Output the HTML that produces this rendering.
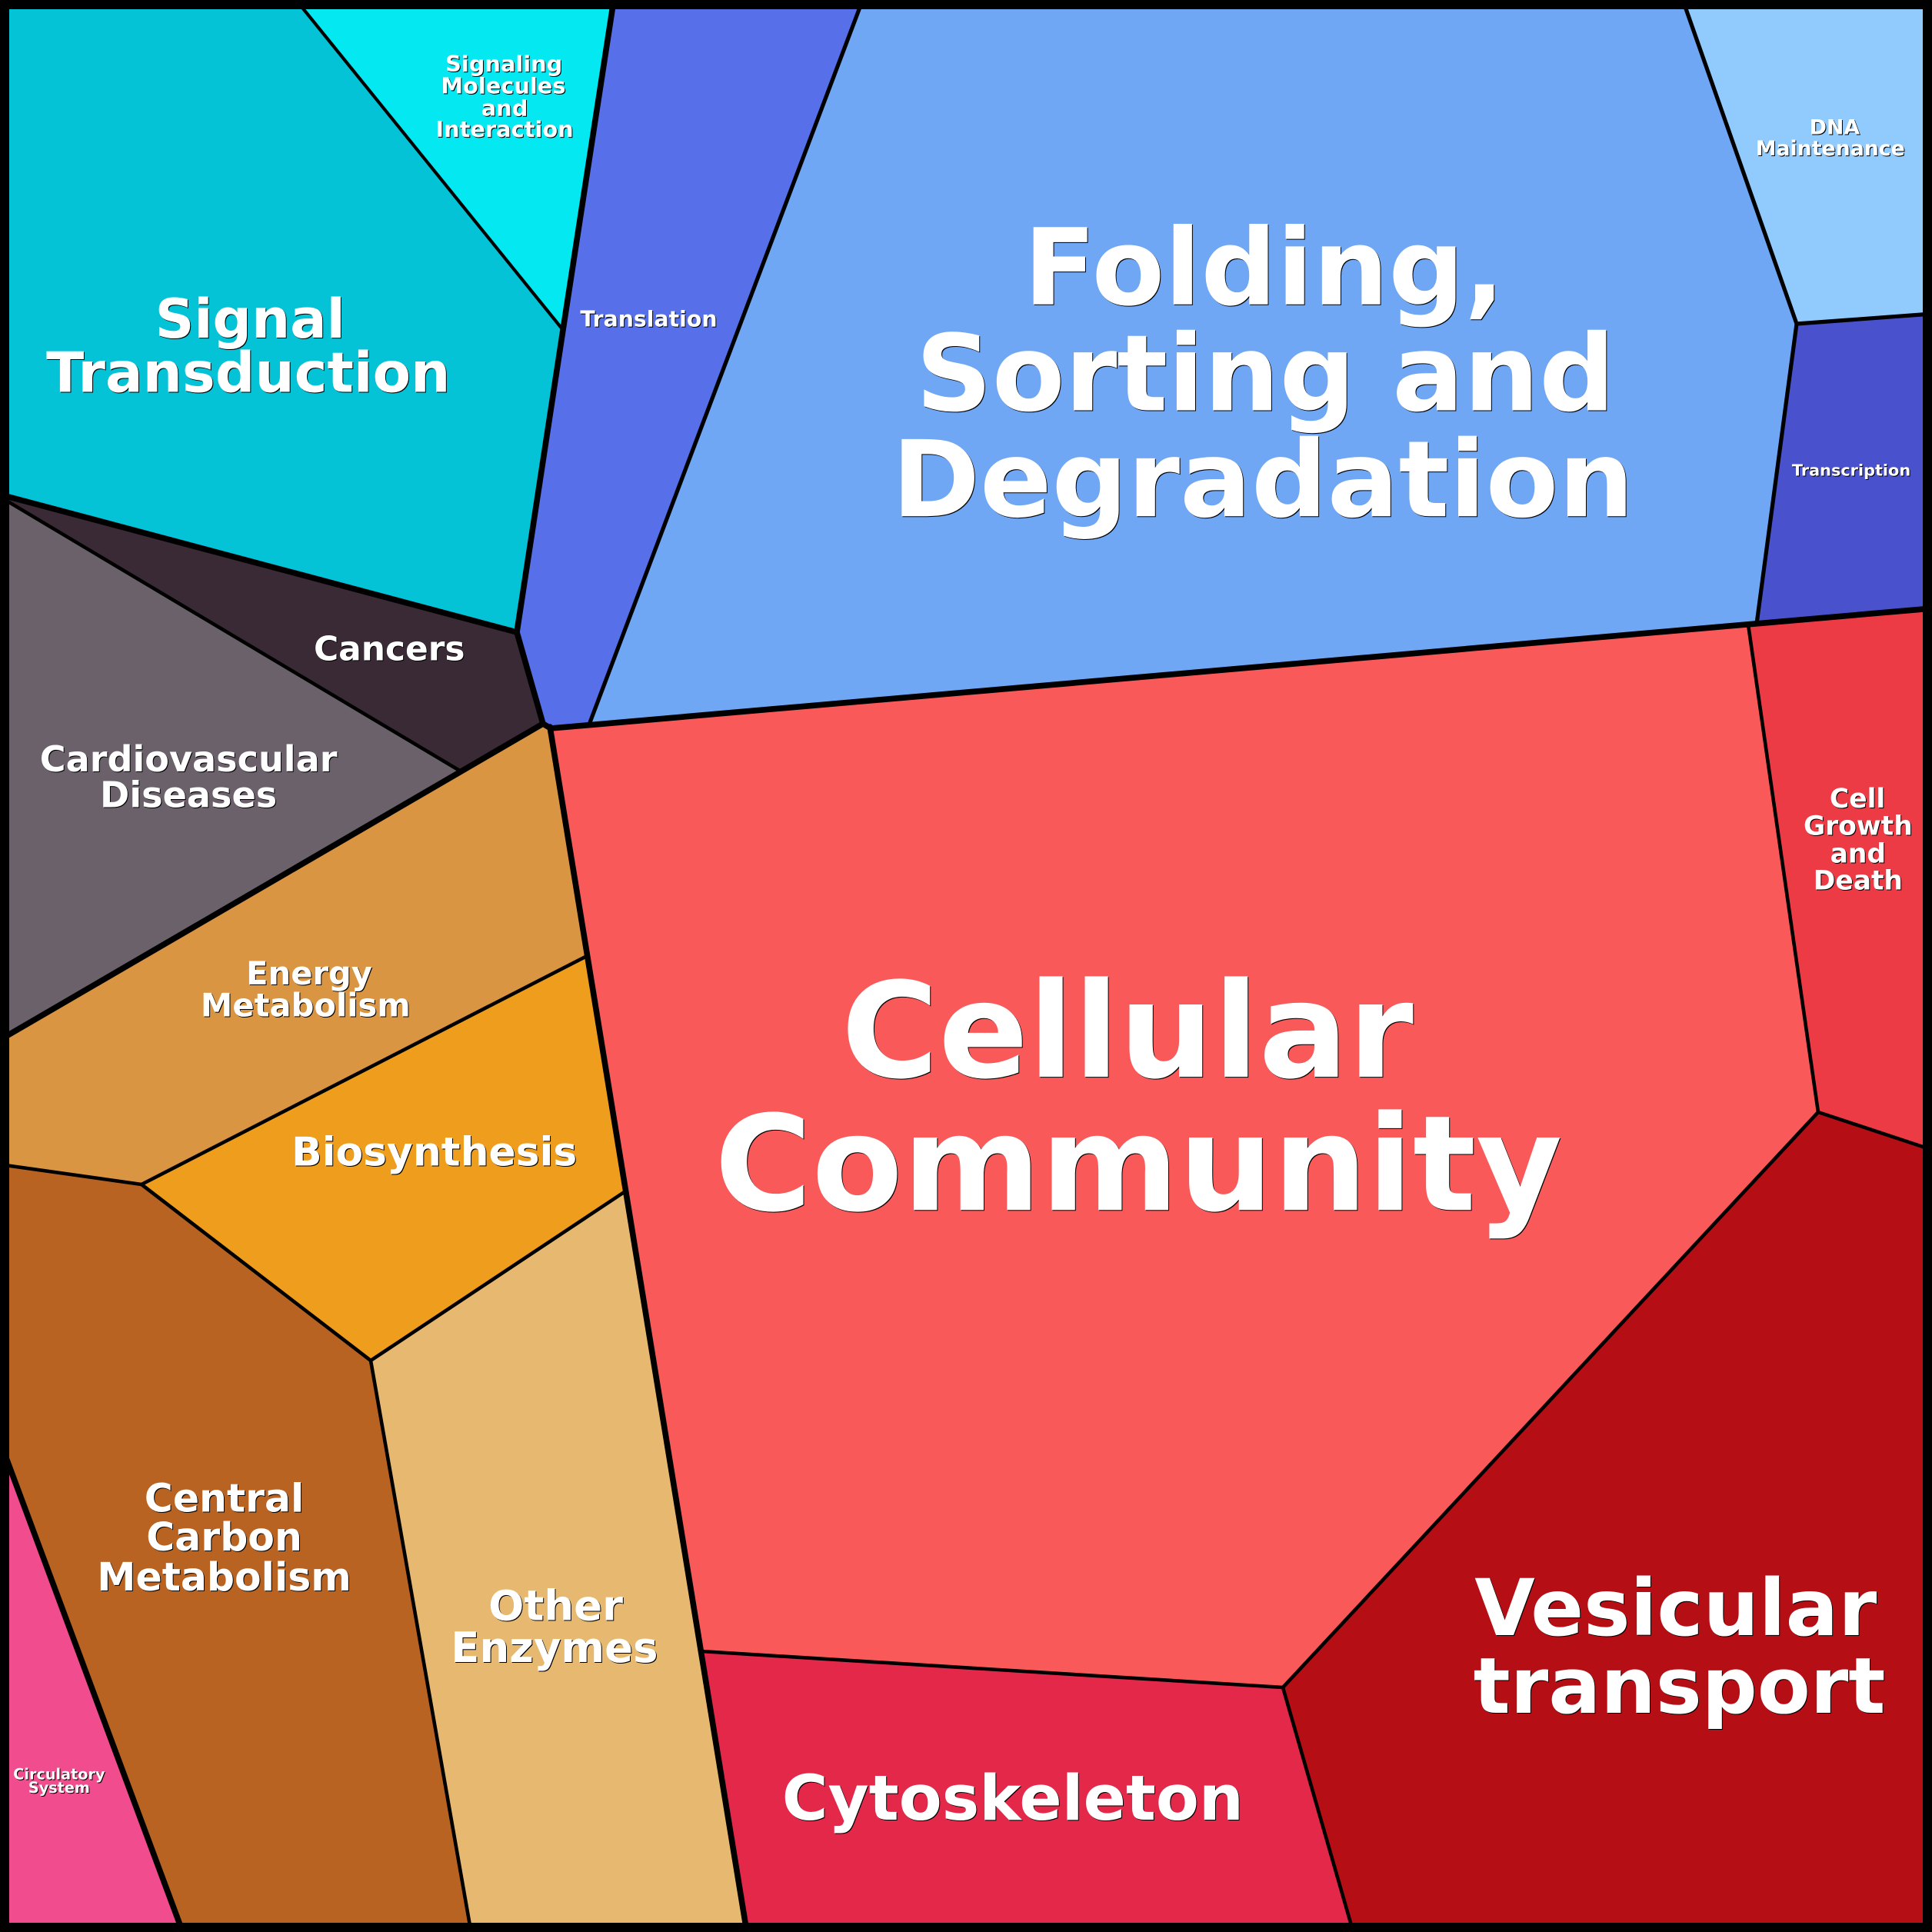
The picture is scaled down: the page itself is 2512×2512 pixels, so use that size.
<!DOCTYPE html>
<html>
<head>
<meta charset="utf-8">
<style>
html,body{margin:0;padding:0;background:#000;width:2512px;height:2512px;overflow:hidden}
svg{display:block}
text{font-family:"DejaVu Sans",sans-serif;font-weight:bold;fill:#fff;text-anchor:middle}
.t{filter:drop-shadow(1.2px 1.2px 0 #000)}
</style>
</head>
<body>
<svg xmlns="http://www.w3.org/2000/svg" width="2512" height="2512" viewBox="0 0 2512 2512">
<g>
<polygon fill="#04c3d6" points="0,0 385,0 732,429 672,822 0,643"/>
<polygon fill="#04e8f1" points="385,0 798,0 732,429"/>
<polygon fill="#5770e9" points="798,0 1121.6,0 766,942 716,947 706,941 672,822 732,429"/>
<polygon fill="#6fa7f4" points="1121.6,0 2188,0 2336,421 2284,811 766,942"/>
<polygon fill="#91cbfe" points="2188,0 2512,0 2512,408 2336,421"/>
<polygon fill="#4952cc" points="2336,421 2512,408 2512,791 2284,811"/>
<polygon fill="#f95959" points="716,947 2273,812 2364,1446 1668,2194 912,2147"/>
<polygon fill="#ec3b45" points="2273,812 2512,791 2512,1495 2364,1446"/>
<polygon fill="#b60e15" points="2364,1446 2512,1495 2512,2512 1759.5,2512 1668,2194"/>
<polygon fill="#e32849" points="912,2147 1668,2194 1759.5,2512 971,2512"/>
<polygon fill="#392a36" points="0,643 672,822 706,941 596,1001 0,646"/>
<polygon fill="#6b616a" points="0,646 596,1001 0,1352"/>
<polygon fill="#da9542" points="0,1352 706,941 716,947 763,1243 184,1540 0,1514"/>
<polygon fill="#ef9d1d" points="184,1540 763,1243 813,1549 482,1769"/>
<polygon fill="#e7b86f" points="482,1769 813,1549 971,2512 612.5,2512"/>
<polygon fill="#b86321" points="0,1514 184,1540 482,1769 612.5,2512 237.5,2512 0,1874"/>
<polygon fill="#f14c8e" points="0,1874 237.5,2512 0,2512"/>
</g>
<g fill="none" stroke="#000" stroke-linecap="round">
<g stroke-width="4.2">
<line x1="385" y1="0" x2="732" y2="429"/>
</g>
<g stroke-width="5.2">
<line x1="1121.6" y1="0" x2="766" y2="942"/>
<line x1="2188" y1="0" x2="2336" y2="421"/>
<line x1="2336" y1="421" x2="2512" y2="408"/>
<line x1="2336" y1="421" x2="2284" y2="811"/>
</g>
<g stroke-width="4.6">
<line x1="2273" y1="812" x2="2364" y2="1446"/>
<line x1="2364" y1="1446" x2="2512" y2="1495"/>
<line x1="2364" y1="1446" x2="1668" y2="2194"/>
<line x1="1668" y1="2194" x2="912" y2="2147"/>
<line x1="1668" y1="2194" x2="1759.5" y2="2512"/>
<line x1="0" y1="646" x2="596" y2="1001"/>
<line x1="763" y1="1243" x2="184" y2="1540"/>
<line x1="184" y1="1540" x2="0" y2="1514"/>
<line x1="184" y1="1540" x2="482" y2="1769"/>
<line x1="482" y1="1769" x2="813" y2="1549"/>
<line x1="482" y1="1769" x2="612.5" y2="2512"/>
</g>
<g stroke-width="7.6" stroke-linejoin="round">
<polyline points="798,0 732,429 672,822"/>
<polyline points="0,643 672,822 706,941 0,1352"/>
<polyline points="706,941 716,947 2512,791"/>
<line x1="715" y1="945" x2="971" y2="2512"/>
<line x1="0" y1="1874" x2="237.5" y2="2512"/>
</g>
</g>
<rect x="6" y="6" width="2500" height="2500" fill="none" stroke="#000" stroke-width="12"/>
<g class="t"><g transform="scale(1.60204)">
<g font-size="86"><text x="1026" y="247">Folding,</text><text x="1027" y="333">Sorting and</text><text x="1025" y="419">Degradation</text></g>
<g font-size="107.500"><text x="915" y="874">Cellular</text><text x="924" y="982">Community</text></g>
<g><text font-size="44" x="203" y="274">Signal</text><text font-size="45" x="201.500" y="318">Transduction</text></g>
<g font-size="18"><text x="409" y="58">Signaling</text><text x="408.500" y="76">Molecules</text><text x="409.500" y="94">and</text><text x="409.500" y="111">Interaction</text></g>
<text font-size="17.700" x="526.500" y="265">Translation</text>
<g font-size="16.700"><text x="1489" y="109">DNA</text><text x="1485.500" y="126">Maintenance</text></g>
<text font-size="13" x="1502.500" y="386">Transcription</text>
<g font-size="21.500"><text x="1507.500" y="655.500">Cell</text><text x="1508" y="677.500">Growth</text><text x="1508" y="700">and</text><text x="1508" y="722">Death</text></g>
<g><text font-size="63.400" x="1360" y="1327">Vesicular</text><text font-size="62.800" x="1363" y="1390">transport</text></g>
<text font-size="50.900" x="822" y="1477">Cytoskeleton</text>
<text font-size="27.400" x="316" y="536">Cancers</text>
<g font-size="28.800"><text x="153" y="626">Cardiovascular</text><text x="153" y="655">Diseases</text></g>
<g font-size="26"><text x="251" y="799">Energy</text><text x="248" y="825">Metabolism</text></g>
<text font-size="32.400" x="352.500" y="946">Biosynthesis</text>
<g font-size="34"><text x="451" y="1315">Other</text><text x="450" y="1349">Enzymes</text></g>
<g font-size="31.500"><text x="182" y="1227">Central</text><text x="182" y="1258.500">Carbon</text><text x="182" y="1291">Metabolism</text></g>
<g font-size="12"><text x="48" y="1444">Circulatory</text><text x="48" y="1455">System</text></g>
</g></g>
</svg>
</body>
</html>
